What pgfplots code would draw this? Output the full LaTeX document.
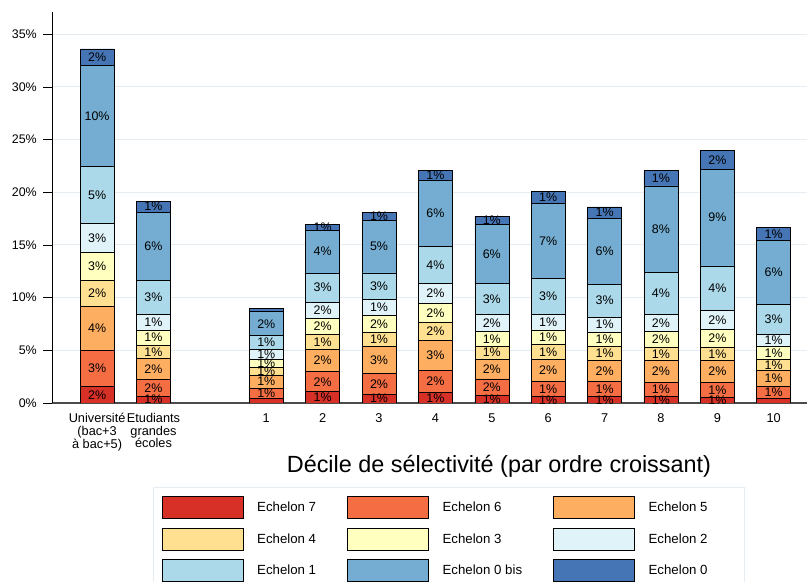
\documentclass[border=0pt]{standalone}
\usepackage{pgfplots}
\pgfplotsset{compat=1.18}
\usepackage{pgfplotstable}
\usepackage{fontspec}
\setmainfont{Liberation Sans}
\definecolor{cE7}{HTML}{D73027}
\definecolor{cE6}{HTML}{F46D43}
\definecolor{cE5}{HTML}{FDAE61}
\definecolor{cE4}{HTML}{FEE090}
\definecolor{cE3}{HTML}{FFFFBF}
\definecolor{cE2}{HTML}{E0F3F8}
\definecolor{cE1}{HTML}{ABD9E9}
\definecolor{cE0b}{HTML}{74ADD1}
\definecolor{cE0}{HTML}{4575B4}
\definecolor{gridc}{HTML}{E6EDF2}
\pgfplotstableread{
x  e7   e6   e5   e4   e3   e2   e1   e0b  e0
0  1.55 3.45 4.20 2.40 2.70 2.75 5.40 9.55 1.60
1  0.66 1.55 1.99 1.27 1.45 1.45 3.27 6.45 1.07
3  0.45 0.94 1.27 0.69 0.82 0.92 1.30 2.27 0.32
4  1.07 1.90 2.15 1.36 1.56 1.54 2.73 4.10 0.57
5  0.83 2.00 2.55 1.33 1.61 1.49 2.54 4.99 0.75
6  0.98 2.12 2.85 1.67 1.84 1.86 3.55 6.26 0.95
7  0.69 1.59 1.89 1.21 1.42 1.58 2.94 5.66 0.76
8  0.60 1.46 2.09 1.38 1.40 1.45 3.45 7.12 1.10
9  0.60 1.46 1.99 1.29 1.40 1.39 3.16 6.23 1.08
10 0.60 1.36 2.05 1.27 1.52 1.62 3.98 8.19 1.45
11 0.54 1.39 2.12 1.23 1.71 1.77 4.24 9.17 1.81
12 0.45 1.16 1.45 1.09 1.23 1.14 2.81 6.07 1.23
}\data
\begin{document}
\begin{tikzpicture}
\useasboundingbox (0,0) rectangle (807bp,582bp);
\begin{axis}[
  at={(52bp,179bp)}, anchor=south west,
  scale only axis, width=755bp, height=391bp,
  ybar stacked, bar width=34bp,
  legend image code/.code={\draw[#1,draw=black,line width=0.5pt] (0bp,-11bp) rectangle (81bp,11bp);},
  xmin=-0.8, xmax=12.59, ymin=0, ymax=37.1,
  axis x line*=bottom, axis y line*=left,
  x axis line style={draw=black!70, line width=1.2pt},
  y axis line style={draw=black, line width=0.8pt},
  xtick={0,1,3,4,5,6,7,8,9,10,11,12},
  xticklabels={{Université\\(bac+3\\à bac+5)},{Etudiants\\grandes\\écoles},1,2,3,4,5,6,7,8,9,10},
  xticklabel style={font=\fontsize{12.8}{12.6}\selectfont, align=center, yshift=2bp},
  xtick style={draw=none},
  ytick={0,5,...,35},
  yticklabel={\pgfmathprintnumber{\tick}\%},
  yticklabel style={font=\fontsize{12.5}{14}\selectfont, xshift=-5bp, inner sep=1bp},
  ytick style={draw=black, line width=0.6pt},
  tick align=outside, major tick length=9bp,
  /pgf/number format/assume math mode=true,
  ymajorgrids, grid style={draw=gridc, line width=1pt},
  xlabel={Décile de sélectivité (par ordre croissant)},
  xlabel style={font=\fontsize{23.5}{26}\selectfont, at={(axis description cs:0.592,0)}, anchor=base, yshift=-69bp},
  every axis plot/.append style={draw=black, line width=0.6pt},
  visualization depends on=rawy \as \rawy,
  nodes near coords={\pgfmathtruncatemacro{\r}{round(\rawy)}\ifnum\r>0 \r\%\fi},
  nodes near coords style={anchor=center, font=\fontsize{12.5}{14}\selectfont, text=black, inner sep=0pt},
  legend columns=3,
  legend style={at={(axis description cs:0.526,-0.2148)}, anchor=north, draw=gridc, line width=0.8pt,
    font=\fontsize{13.3}{15}\selectfont, inner xsep=8bp, inner ysep=9bp,
    row sep=9bp,
    /tikz/every odd column/.append style={column sep=12bp},
    /tikz/every even column/.append style={column sep=29bp}},
  legend cell align=left,
]
\addplot[fill=cE7] table[x=x,y=e7]{\data};
\addplot[fill=cE6] table[x=x,y=e6]{\data};
\addplot[fill=cE5] table[x=x,y=e5]{\data};
\addplot[fill=cE4] table[x=x,y=e4]{\data};
\addplot[fill=cE3] table[x=x,y=e3]{\data};
\addplot[fill=cE2] table[x=x,y=e2]{\data};
\addplot[fill=cE1] table[x=x,y=e1]{\data};
\addplot[fill=cE0b] table[x=x,y=e0b]{\data};
\addplot[fill=cE0] table[x=x,y=e0]{\data};
\legend{Echelon 7,Echelon 6,Echelon 5\hspace*{27bp},Echelon 4,Echelon 3,Echelon 2,Echelon 1,Echelon 0 bis,Echelon 0}
\end{axis}
\end{tikzpicture}
\end{document}
